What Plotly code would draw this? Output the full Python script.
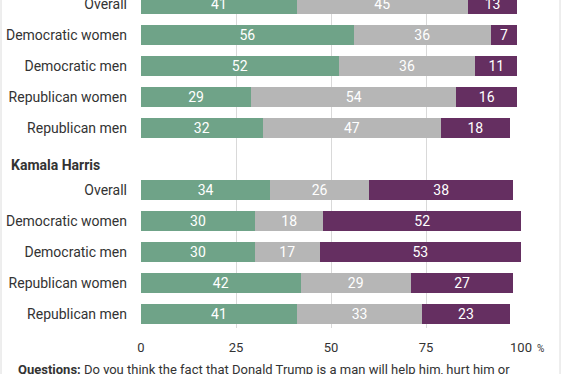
import plotly.graph_objects as go

categories = ["Overall", "Democratic women", "Democratic men", "Republican women", "Republican men"]
groups = ["Donald Trump", "Kamala Harris"]

trump_help = [41, 56, 52, 29, 32]
trump_none = [45, 36, 36, 54, 47]
trump_hurt = [13, 7, 11, 16, 18]

harris_help = [34, 30, 30, 42, 41]
harris_none = [26, 18, 17, 29, 33]
harris_hurt = [38, 52, 53, 27, 23]

x_ticks = [0, 25, 50, 75, 100]

GREEN = "#6fa388"
GRAY = "#b6b6b6"
PURPLE = "#652f61"
TXT = "#333333"
FONT = "Roboto"

# row positions: trump rows 0..4, header slot 5, harris rows 6..10
pos_trump = list(range(0, 5))
pos_harris = list(range(6, 11))
ypos = pos_trump + pos_harris
labels = categories + categories

help_vals = trump_help + harris_help
none_vals = trump_none + harris_none
hurt_vals = trump_hurt + harris_hurt

fig = go.Figure()
for name, vals, col in [("Help", help_vals, GREEN), ("No difference", none_vals, GRAY), ("Hurt", hurt_vals, PURPLE)]:
    fig.add_trace(go.Bar(
        y=ypos, x=vals, orientation="h", name=name,
        marker=dict(color=col, line=dict(width=0)),
        width=0.645,
        text=[str(v) for v in vals], textposition="inside", insidetextanchor="middle",
        textangle=0, constraintext="none",
        textfont=dict(color="white", size=14, family=FONT),
        hoverinfo="skip",
    ))

# pixel geometry helpers
PL, PR = 141, 521
PT, PB = 0, 328
def px_x(p):
    return (p - PL) / (PR - PL)
def px_y(p):
    return (PB - p) / (PB - PT)

fig.update_layout(
    width=568, height=374,
    margin=dict(l=PL, r=568 - PR, t=PT, b=374 - PB, pad=0, autoexpand=False),
    barmode="stack", showlegend=False,
    plot_bgcolor="white", paper_bgcolor="white",
    font=dict(family=FONT, color=TXT, size=14),
    bargap=0, uniformtext=dict(mode=False),
)
fig.update_xaxes(
    range=[0, 100], tickvals=x_ticks, ticktext=[str(t) for t in x_ticks],
    showgrid=True, gridcolor="#d9d9d9", gridwidth=1, zeroline=False,
    showline=False, ticks="", tickfont=dict(size=13, color=TXT, family=FONT),
    ticklabelstandoff=10, automargin=False, fixedrange=True,
)
fig.update_yaxes(
    range=[(PB - 4) / 31, -4 / 31], tickvals=ypos, ticktext=labels,
    showgrid=False, zeroline=False, showline=False, ticks="",
    tickfont=dict(size=14, color=TXT, family=FONT),
    ticklabelstandoff=13, ticklabeloverflow="allow", automargin=False, fixedrange=True,
)

fig.add_annotation(
    x=px_x(9), xref="paper", y=5 + (165 - 159) / 31, yref="y",
    text="<b>" + groups[1] + "</b>", showarrow=False, xanchor="left", yanchor="middle",
    font=dict(size=14, color=TXT, family=FONT),
)
fig.add_annotation(
    x=100, xref="x", y=px_y(348), yref="paper",
    text="%", showarrow=False, xanchor="left", yanchor="middle", xshift=14,
    font=dict(size=10, color=TXT, family=FONT),
)
fig.add_annotation(
    x=px_x(16), xref="paper", y=px_y(370), yref="paper",
    text="<b>Questions:</b> Do you think the fact that Donald Trump is a man will help him, hurt him or",
    showarrow=False, xanchor="left", yanchor="middle", align="left",
    font=dict(size=13, color=TXT, family=FONT),
)

for xp in [1, 560]:
    fig.add_shape(type="line", xref="paper", yref="paper",
                  x0=px_x(xp), x1=px_x(xp), y0=px_y(374), y1=px_y(0),
                  line=dict(color="#dcdcdc", width=1))

fig.write_html(
    "out.html",
    config={"displayModeBar": False, "staticPlot": True},
    post_script="document.body.style.margin='0';document.body.style.overflow='hidden';",
)
